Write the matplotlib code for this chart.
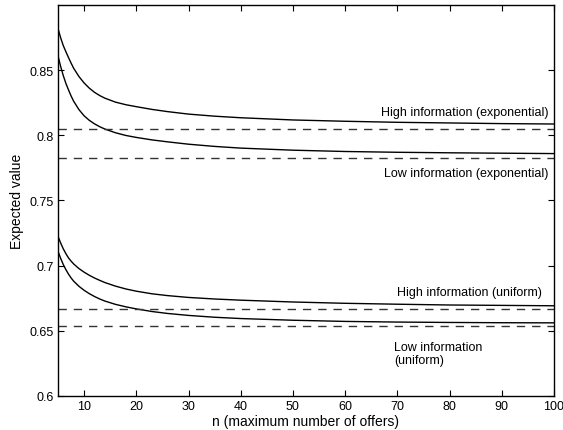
import matplotlib
matplotlib.use("Agg")
import matplotlib.pyplot as plt

# ===========================================
# DATA
# ===========================================

n_values = [5, 5.5, 6, 6.5, 7, 7.5, 8, 9, 10, 11, 12, 13, 14, 16, 18,
            20, 23, 26, 30, 35, 40, 50, 60, 70, 80, 90, 100]

high_exponential = [0.882, 0.875, 0.869, 0.8643, 0.8598, 0.8555, 0.8515,
                    0.8452, 0.8402, 0.8362, 0.8330, 0.8305, 0.8285,
                    0.8255, 0.8235, 0.8220, 0.8199, 0.8182, 0.8163,
                    0.8147, 0.8135, 0.8118, 0.8108, 0.8100, 0.8095,
                    0.8090, 0.8087]

low_exponential = [0.861, 0.853, 0.846, 0.840, 0.835, 0.8303, 0.8262,
                   0.8198, 0.8150, 0.8115, 0.8088, 0.8066, 0.8048,
                   0.8020, 0.7999, 0.7984, 0.7965, 0.7950, 0.7932,
                   0.7915, 0.7902, 0.7886, 0.7876, 0.7870, 0.7866,
                   0.7863, 0.7860]

high_uniform = [0.7225, 0.7175, 0.7130, 0.7093, 0.7060, 0.7035, 0.7013,
                0.6978, 0.6950, 0.6926, 0.6905, 0.6887, 0.6870,
                0.6843, 0.6821, 0.6804, 0.6784, 0.6770, 0.6756,
                0.6744, 0.6735, 0.6721, 0.6711, 0.6704, 0.6698,
                0.6695, 0.6692]

low_uniform = [0.711, 0.7057, 0.7010, 0.6970, 0.6936, 0.6906, 0.6881,
               0.6842, 0.6811, 0.6785, 0.6763, 0.6744, 0.6728,
               0.6703, 0.6684, 0.6668, 0.6648, 0.6633, 0.6618,
               0.6604, 0.6594, 0.6581, 0.6572, 0.6567, 0.6564,
               0.6562, 0.6561]

# limits for n -> infinity (dashed lines)
limit_values = [0.805, 0.7825, 0.6667, 0.6534]

x_ticks = [10, 20, 30, 40, 50, 60, 70, 80, 90, 100]
y_ticks = [0.6, 0.65, 0.7, 0.75, 0.8, 0.85]
y_tick_labels = ["0.6", "0.65", "0.7", "0.75", "0.8", "0.85"]

# ===========================================
# PLOT
# ===========================================

plt.rcParams["font.family"] = ["Liberation Sans", "DejaVu Sans"]

fig = plt.figure(figsize=(5.63, 4.31), dpi=100)
ax = fig.add_axes([0.103, 0.079, 0.881, 0.907])

for series in [high_exponential, low_exponential, high_uniform, low_uniform]:
    ax.plot(n_values, series, color="black", linewidth=1.0)

for value in limit_values:
    ax.axhline(value, color="#333333", linewidth=1.0,
               linestyle=(0, (6, 5)))

ax.text(98.9, 0.818, "High information (exponential)",
        ha="right", va="center", fontsize=9)
ax.text(98.9, 0.771, "Low information (exponential)",
        ha="right", va="center", fontsize=9)
ax.text(97.7, 0.6795, "High information (uniform)",
        ha="right", va="center", fontsize=9)
ax.text(69.4, 0.6328, "Low information\n(uniform)",
        ha="left", va="center", fontsize=9, linespacing=1.15)

ax.set_xlim(5, 100)
ax.set_ylim(0.6, 0.9)
ax.set_xticks(x_ticks)
ax.set_yticks(y_ticks)
ax.set_yticklabels(y_tick_labels)

ax.tick_params(direction="in", top=True, right=True, length=4,
               width=0.8, labelsize=9, pad=3)

for spine in ax.spines.values():
    spine.set_linewidth(1.0)

ax.set_xlabel("n (maximum number of offers)", fontsize=10, labelpad=1)
ax.set_ylabel("Expected value", fontsize=10, labelpad=4)

fig.savefig("out.png", dpi=100)
